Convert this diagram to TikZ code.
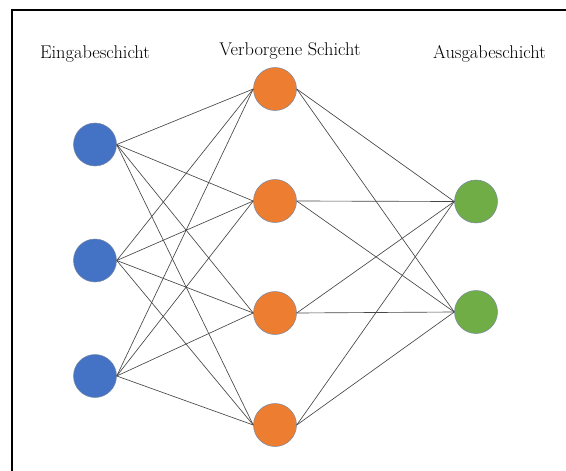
\documentclass[tikz,border=0pt]{standalone}
\usepackage{fontspec}
\definecolor{inblue}{RGB}{68,114,196}
\definecolor{hidorange}{RGB}{237,125,49}
\definecolor{outgreen}{RGB}{112,173,71}
\definecolor{ringcol}{RGB}{120,135,165}
\definecolor{wirecol}{RGB}{70,70,70}
\begin{document}
\begin{tikzpicture}[x=1pt,y=-1pt,
  neuron/.style={circle, minimum size=43pt, inner sep=0pt, line width=0.5pt, draw=ringcol},
  inneuron/.style={neuron, fill=inblue},
  hidneuron/.style={neuron, fill=hidorange},
  outneuron/.style={neuron, fill=outgreen},
  wire/.style={draw=wirecol, line width=0.65pt},
  layerlabel/.style={anchor=base, inner sep=0pt, font=\fontsize{18.4}{22}\selectfont},
  frameline/.style={line width=1.8pt, black}]
\useasboundingbox (0,0) rectangle (566,471);
% frame
\coordinate (fbl) at (12,471);
\coordinate (ftl) at (12,10);
\coordinate (ftr) at (566,10);
\draw[frameline] (fbl) -- (ftl) -- (ftr);
% layer titles
\node[layerlabel] (tin)  at (95,58.3)  {Eingabeschicht};
\node[layerlabel] (thid) at (290,56)   {Verborgene Schicht};
\node[layerlabel] (tout) at (489.5,59) {Ausgabeschicht};
% neurons
\node[inneuron] (i1) at (95,144.5) {};
\node[inneuron] (i2) at (95,260.5) {};
\node[inneuron] (i3) at (95,376)   {};
\node[hidneuron] (h1) at (275,89)  {};
\node[hidneuron] (h2) at (275,201) {};
\node[hidneuron] (h3) at (275,313) {};
\node[hidneuron] (h4) at (275,425) {};
\node[outneuron] (o1) at (476,201.5) {};
\node[outneuron] (o2) at (476,312)   {};
% connections: every input to every hidden neuron, every hidden to every output
\foreach \a in {i1,i2,i3}
  \foreach \b in {h1,h2,h3,h4}
    \draw[wire] (\a.east) -- (\b.west);
\foreach \a in {h1,h2,h3,h4}
  \foreach \b in {o1,o2}
    \draw[wire] (\a.east) -- (\b.west);
\end{tikzpicture}
\end{document}
